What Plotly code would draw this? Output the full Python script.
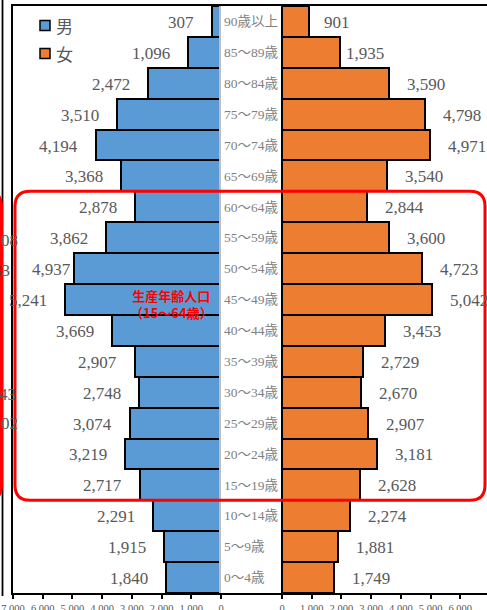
import plotly.graph_objects as go

W, H = 487, 610
PLOT_TOP, PLOT_BOTTOM = 6, 593

# Age groups, youngest first (bottom of the pyramid)
ages = ["0～4歳", "5～9歳", "10～14歳", "15～19歳", "20～24歳", "25～29歳",
        "30～34歳", "35～39歳", "40～44歳", "45～49歳", "50～54歳", "55～59歳",
        "60～64歳", "65～69歳", "70～74歳", "75～79歳", "80～84歳", "85～89歳",
        "90歳以上"]
male = [1840, 1915, 2291, 2717, 3219, 3074, 2748, 2907, 3669, 5241, 4937,
        3862, 2878, 3368, 4194, 3510, 2472, 1096, 307]
female = [1749, 1881, 2274, 2628, 3181, 2907, 2670, 2729, 3453, 5042, 4723,
          3600, 2844, 3540, 4971, 4798, 3590, 1935, 901]

left_ticks = [7000, 6000, 5000, 4000, 3000, 2000, 1000, 0]
right_ticks = [-2000, -1000, 0, 1000, 2000, 3000, 4000, 5000, 6000]

BLUE = "#5B9BD5"
ORANGE = "#ED7D31"
LABEL_GRAY = "#595959"
AGE_GRAY = "#7F7F7F"
SERIF = "Liberation Serif, Noto Sans CJK JP"
CJK = "Noto Sans CJK JP"

# value-label gaps (px) from the bar end; a few labels sit closer to their bar
male_gap = {4937: 1}
female_gap = {1935: 4, 901: 13}


def fmt(v):
    return f"{v:,}"


def px_x(p):
    return p / W


def px_y(p):
    return (PLOT_BOTTOM - p) / (PLOT_BOTTOM - PLOT_TOP)


def rounded_box(x0, y0, x1, y1, r):
    """Rounded rectangle path; x in pixels, y in paper units."""
    rx = px_x(r) - px_x(0)
    ry = r / (PLOT_BOTTOM - PLOT_TOP)
    X0, X1 = px_x(x0), px_x(x1)
    return (f"M {X0 + rx},{y0} L {X1 - rx},{y0} Q {X1},{y0} {X1},{y0 - ry} "
            f"L {X1},{y1 + ry} Q {X1},{y1} {X1 - rx},{y1} "
            f"L {X0 + rx},{y1} Q {X0},{y1} {X0},{y1 + ry} "
            f"L {X0},{y0 - ry} Q {X0},{y0} {X0 + rx},{y0} Z")


fig = go.Figure()
fig.add_trace(go.Bar(
    x=male, y=ages, orientation="h", name="男",
    marker=dict(color=BLUE, line=dict(color="black", width=2)),
    xaxis="x", yaxis="y", hoverinfo="x+y",
))
fig.add_trace(go.Bar(
    x=female, y=ages, orientation="h", name="女",
    marker=dict(color=ORANGE, line=dict(color="black", width=2)),
    xaxis="x2", yaxis="y2", hoverinfo="x+y",
))

annotations = []
for age, m, f in zip(ages, male, female):
    annotations.append(dict(
        x=m, y=age, xref="x", yref="y", text=fmt(m), showarrow=False,
        xanchor="right", yanchor="middle", xshift=-male_gap.get(m, 16),
        yshift=-1, font=dict(family=SERIF, size=17, color=LABEL_GRAY)))
    annotations.append(dict(
        x=f, y=age, xref="x2", yref="y2", text=fmt(f), showarrow=False,
        xanchor="left", yanchor="middle", xshift=female_gap.get(f, 16),
        yshift=-1, font=dict(family=SERIF, size=17, color=LABEL_GRAY)))

# Working-age band caption
annotations.append(dict(
    x=px_x(171), y=px_y(304), xref="paper", yref="paper",
    text="<b>生産年齢人口<br>（15～64歳）</b>", showarrow=False,
    xanchor="center", yanchor="middle", align="center",
    font=dict(family=CJK, size=13, color="#FF0000")))

# Legend entries
for label, yc in (("男", 25.5), ("女", 53.5)):
    annotations.append(dict(
        x=px_x(54), y=px_y(yc), xref="paper", yref="paper", text=label,
        showarrow=False, xanchor="left", yanchor="middle",
        font=dict(family=CJK, size=17, color=LABEL_GRAY)))

# Labels of the neighbouring panel running off the left edge
for txt, xr, yc in (("08", 20, 240), ("33", 12, 270), ("43", 18, 394), ("02", 20, 423)):
    annotations.append(dict(
        x=px_x(xr), y=px_y(yc), xref="paper", yref="paper", text=txt,
        showarrow=False, xanchor="right", yanchor="middle",
        font=dict(family=SERIF, size=17, color=LABEL_GRAY)))

band_top = (ages.index("60～64歳") + 1) / len(ages)
band_bottom = ages.index("15～19歳") / len(ages)

shapes = [
    # neighbouring panel frame edge
    dict(type="line", xref="paper", yref="paper",
         x0=px_x(2.5), x1=px_x(2.5), y0=px_y(0), y1=px_y(596),
         line=dict(color="black", width=1.8)),
    dict(type="path", xref="paper", yref="paper",
         path=rounded_box(-300, band_top, 1.5, band_bottom, 15),
         line=dict(color="#FF0000", width=3)),
    # working-age band outline
    dict(type="path", xref="paper", yref="paper",
         path=rounded_box(15, band_top, 485, band_bottom, 15),
         line=dict(color="#FF0000", width=3)),
    # legend keys
    dict(type="rect", xref="paper", yref="paper",
         x0=px_x(40), x1=px_x(50), y0=px_y(20.5), y1=px_y(30.5),
         fillcolor=BLUE, line=dict(color="black", width=1.5)),
    dict(type="rect", xref="paper", yref="paper",
         x0=px_x(40), x1=px_x(50), y0=px_y(48.5), y1=px_y(58.5),
         fillcolor=ORANGE, line=dict(color="black", width=1.5)),
]

px_per_unit = (221 - 13) / 7000.0
right_min = -(282 - 221) / px_per_unit
right_max = right_min + (W - 221) / px_per_unit

axis_common = dict(showgrid=False, zeroline=False, fixedrange=True,
                   automargin=False)

fig.update_layout(
    width=W, height=H,
    margin=dict(l=0, r=0, t=PLOT_TOP, b=H - PLOT_BOTTOM, pad=0,
                autoexpand=False),
    paper_bgcolor="white", plot_bgcolor="white",
    showlegend=False, bargap=0,
    xaxis=dict(domain=[px_x(13), px_x(221)], range=[7000, 0], anchor="y",
               tickvals=left_ticks, ticktext=[fmt(v) for v in left_ticks],
               ticks="outside", ticklen=4, tickwidth=2, tickcolor="black",
               ticklabelstandoff=0,
               showline=True, linecolor="black", linewidth=2, mirror=True,
               tickfont=dict(family=SERIF, size=10.5, color=LABEL_GRAY),
               **axis_common),
    yaxis=dict(type="category", categoryorder="array", categoryarray=ages,
               anchor="x", showticklabels=False, ticks="",
               showline=True, linecolor="black", linewidth=2,
               **axis_common),
    xaxis2=dict(domain=[px_x(221), 1], range=[right_min, right_max],
                anchor="y2", tickvals=right_ticks,
                ticktext=[fmt(v) if v >= 0 else "" for v in right_ticks],
                ticks="outside", ticklen=4, tickwidth=2, tickcolor="black",
                ticklabelstandoff=0,
                showline=True, linecolor="black", linewidth=2, mirror=True,
                tickfont=dict(family=SERIF, size=10.5, color=LABEL_GRAY),
                **axis_common),
    yaxis2=dict(type="category", categoryorder="array", categoryarray=ages,
                anchor="x2", side="left", ticks="",
                ticklabelposition="inside", ticklabelstandoff=3,
                showline=True, linecolor="#BFBFBF", linewidth=1.5,
                tickfont=dict(family=SERIF, size=13.5, color=AGE_GRAY),
                **axis_common),
    annotations=annotations,
    shapes=shapes,
)

fig.write_html("out.html")
